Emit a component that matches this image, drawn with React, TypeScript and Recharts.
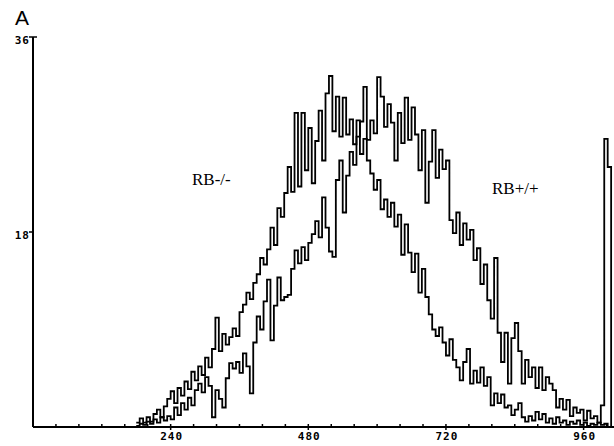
import { Line, LineChart, XAxis, YAxis } from "recharts";

// histogram bins: channel = START_CHANNEL + i * BIN_WIDTH
const START_CHANNEL = 180;
const BIN_WIDTH = 6;

const rbKnockout = [
  0.4, 0.8, 0.4, 0.9, 0.5, 1.2, 1.6, 0.9, 1.9, 2.6,
  3.3, 2.2, 3.6, 2.9, 4.2, 3.5, 5.1, 4.3, 5.6, 4.8,
  6.4, 5.5, 7.2, 10.1, 7.0, 8.6, 7.6, 8.3, 9.1, 8.4,
  10.6, 11.3, 12.4, 11.8, 13.3, 14.1, 15.6, 15.0, 16.4, 18.4,
  16.8, 20.2, 19.4, 21.6, 24.0, 21.7, 29.0, 22.2, 29.0, 23.7,
  27.6, 22.5, 26.4, 29.2, 24.6, 30.8, 32.4, 27.3, 30.5, 26.8,
  30.4, 27.0, 28.4, 26.1, 28.3, 25.2, 26.6, 24.6, 23.4, 21.9,
  22.8, 20.1, 21.0, 19.4, 20.7, 18.5, 19.6, 15.9, 18.7, 16.1,
  14.3, 16.0, 12.4, 14.6, 12.0, 10.4, 9.0, 8.4, 9.2, 7.8,
  6.6, 8.1, 6.2, 5.5, 4.3, 6.0, 7.2, 4.0, 5.2, 4.1,
  5.5, 3.8, 4.6, 2.0, 3.1, 2.2, 3.0, 1.8, 2.0, 1.1,
  1.6, 2.2, 0.9, 0.5, 1.0, 0.6, 1.4, 0.7, 1.2, 0.4,
  0.8, 0.3, 0.9, 0.4, 0.6, 0.2, 0.5, 0.3, 0.6, 0.2,
  0.4, 0.1, 0.3, 0.2, 0.4, 0.2, 0.3, 0, 0,
];

const rbWildType = [
  0.1, 0.3, 0.2, 0.5, 0.3, 0.7, 0.4, 0.9, 0.6, 1.0,
  0.7, 1.8, 1.1, 2.2, 1.6, 2.7, 2.0, 3.4, 4.0, 3.2,
  4.6, 3.8, 0.9, 3.4, 2.6, 1.8, 4.5, 5.9, 5.4, 6.0,
  5.0, 6.8, 5.6, 3.1, 7.8, 10.2, 9.0, 11.6, 13.6, 8.0,
  11.2, 13.8, 11.7, 12.0, 12.2, 14.6, 16.3, 15.1, 16.6, 15.4,
  17.0, 17.8, 19.0, 17.5, 21.2, 18.4, 16.2, 15.7, 22.8, 24.6,
  19.8, 23.2, 25.4, 24.2, 26.8, 28.2, 31.4, 26.5, 28.3, 27.1,
  32.3, 30.5, 27.7, 29.8, 28.1, 24.6, 29.0, 26.2, 30.4, 26.5,
  29.5, 27.0, 23.7, 27.4, 20.7, 24.5, 27.4, 23.0, 25.6, 23.8,
  24.6, 19.1, 17.9, 19.8, 16.8, 18.8, 17.3, 18.2, 15.4, 16.5,
  13.2, 15.0, 11.7, 10.0, 15.6, 8.7, 6.0, 8.7, 4.0, 8.2,
  9.6, 7.0, 4.0, 6.2, 4.6, 5.5, 3.6, 5.5, 3.4, 4.6,
  4.0, 3.4, 1.8, 2.6, 1.6, 2.5, 1.0, 1.8, 1.3, 1.6,
  0.6, 1.5, 0.8, 1.0, 0.4, 2.0, 26.6, 24.0, 0,
];

const xTicks = [
  40, 80, 120, 160, 200, 240, 280, 320, 360, 400, 440, 480, 520,
  560, 600, 640, 680, 720, 760, 800, 840, 880, 920, 960, 1000,
];
const xLabelTicks = [240, 480, 720, 960];
const yTicks = [18, 36];

const data = rbKnockout.map((ko, i) => ({
  channel: START_CHANNEL + i * BIN_WIDTH,
  ko,
  wt: rbWildType[i],
}));

const tickFont = {
  fontFamily: "'DejaVu Sans Mono', monospace",
  fontWeight: 700,
  fontSize: 11,
  letterSpacing: 1,
};

const XTick = ({ x, y, payload }: any) => {
  const major = xLabelTicks.includes(payload.value);
  return (
    <g>
      <line x1={x} x2={x} y1={y - 3} y2={major ? y + 3 : y} stroke="#000" strokeWidth={1.5} />
      {major && (
        <text x={x + 1} y={y + 13} textAnchor="middle" fill="#000" {...tickFont}>
          {payload.value}
        </text>
      )}
    </g>
  );
};

const YTick = ({ x, y, payload }: any) => (
  <g>
    <line
      x1={x - 4}
      x2={payload.value === 36 ? x + 4 : x}
      y1={y}
      y2={y}
      stroke="#000"
      strokeWidth={1.5}
    />
    <text x={x - 3} y={y + 7} textAnchor="end" fill="#000" {...tickFont}>
      {payload.value}
    </text>
  </g>
);

const label = (left: number, top: number, size: number, family: string) => ({
  position: "absolute" as const,
  left,
  top,
  fontSize: size,
  lineHeight: 1,
  fontFamily: family,
  color: "#000",
  whiteSpace: "nowrap" as const,
});

export default function App() {
  return (
    <div style={{ position: "absolute", left: 0, top: 0, width: 614, height: 446, background: "#fff" }}>
      <LineChart width={614} height={446} data={data} margin={{ top: 37, right: 0, bottom: 0, left: 0 }}>
        <XAxis
          dataKey="channel"
          type="number"
          domain={[0, 1013]}
          ticks={xTicks}
          interval={0}
          height={19}
          tickSize={0}
          tickMargin={0}
          tickLine={false}
          tick={<XTick />}
          axisLine={{ stroke: "#000", strokeWidth: 2 }}
        />
        <YAxis
          type="number"
          domain={[0, 36]}
          ticks={yTicks}
          interval={0}
          width={33}
          tickSize={0}
          tickMargin={0}
          tickLine={false}
          tick={<YTick />}
          axisLine={{ stroke: "#000", strokeWidth: 2 }}
        />
        <Line
          type="stepAfter"
          dataKey="ko"
          stroke="#000"
          strokeWidth={1.8}
          dot={false}
          isAnimationActive={false}
        />
        <Line
          type="stepAfter"
          dataKey="wt"
          stroke="#000"
          strokeWidth={1.8}
          dot={false}
          isAnimationActive={false}
        />
      </LineChart>
      <span style={label(15, 7, 21, "'Liberation Sans', Arial, sans-serif")}>A</span>
      <span style={label(192, 171, 17, "'Liberation Serif', 'Times New Roman', serif")}>RB-/-</span>
      <span style={label(492, 180, 17, "'Liberation Serif', 'Times New Roman', serif")}>RB+/+</span>
    </div>
  );
}
